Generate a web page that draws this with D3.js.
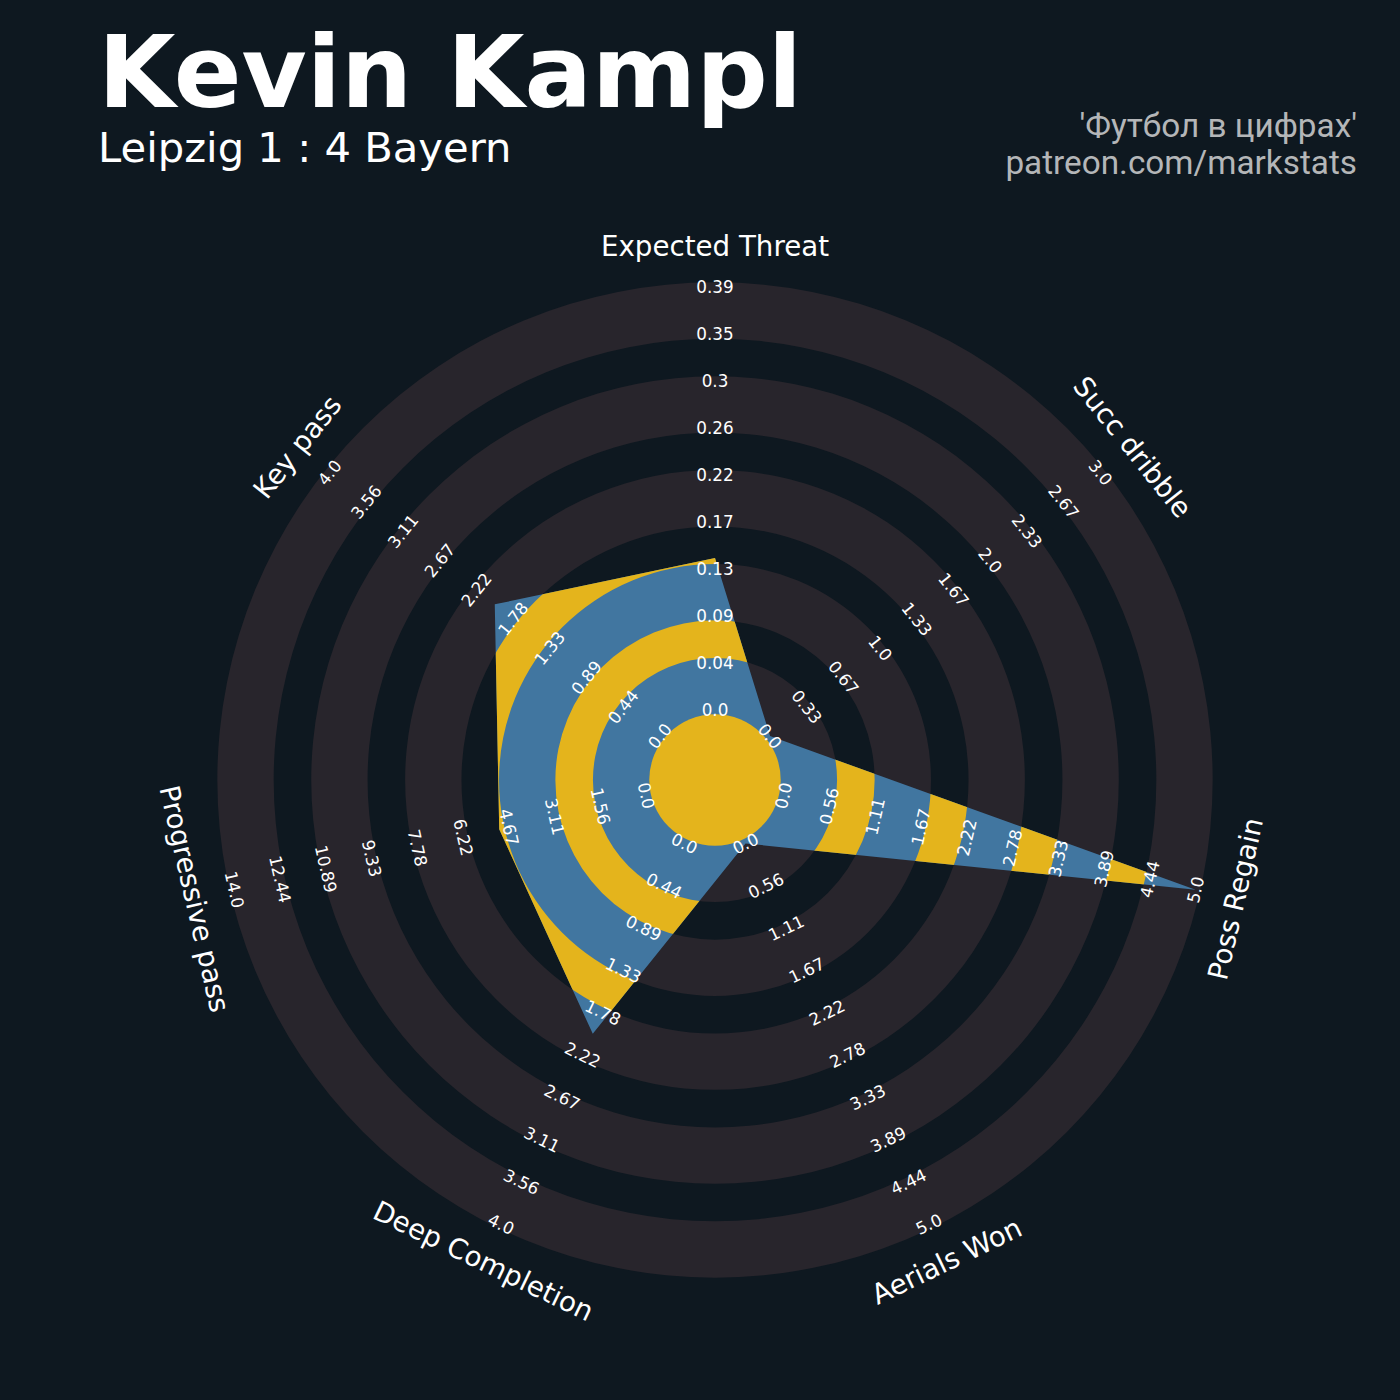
<!DOCTYPE html>
<html>
<head>
<meta charset="utf-8">
<script src="https://cdn.jsdelivr.net/npm/d3@7"></script>
<style>
  html, body { margin: 0; padding: 0; background: #0e1820; }
  svg { display: block; }
</style>
</head>
<body>
<svg id="chart" width="1400" height="1400"></svg>
<script>
// ---- data ----
const params = ["Expected Threat", "Succ dribble", "Poss Regain", "Aerials Won", "Deep Completion", "Progressive pass", "Key pass"];
const values = [0.14, 0, 5, 0, 2, 5, 2];
const rangeMin = [0, 0, 0, 0, 0, 0, 0];
const rangeMax = [0.39, 3, 5, 5, 4, 14, 4];
const tickLabels = [
  ["0.0", "0.04", "0.09", "0.13", "0.17", "0.22", "0.26", "0.3", "0.35", "0.39"],
  ["0.0", "0.33", "0.67", "1.0", "1.33", "1.67", "2.0", "2.33", "2.67", "3.0"],
  ["0.0", "0.56", "1.11", "1.67", "2.22", "2.78", "3.33", "3.89", "4.44", "5.0"],
  ["0.0", "0.56", "1.11", "1.67", "2.22", "2.78", "3.33", "3.89", "4.44", "5.0"],
  ["0.0", "0.44", "0.89", "1.33", "1.78", "2.22", "2.67", "3.11", "3.56", "4.0"],
  ["0.0", "1.56", "3.11", "4.67", "6.22", "7.78", "9.33", "10.89", "12.44", "14.0"],
  ["0.0", "0.44", "0.89", "1.33", "1.78", "2.22", "2.67", "3.11", "3.56", "4.0"]
];
const title = "Kevin Kampl";
const subtitle = "Leipzig 1 : 4 Bayern";
const creditLines = ["'Футбол в цифрах'", "patreon.com/markstats"];

// ---- layout ----
const W = 1400, H = 1400;
const cx = 715, cy = 780;
const u = 46.95;
const colBg = "#0e1820", colRing = "#28252c", colBlue = "#4176a0", colYellow = "#e4b41c";

const svg = d3.select("#chart");
svg.append("rect").attr("width", W).attr("height", H).attr("fill", colBg);

const n = params.length;
const angleDeg = i => 90 - i * 360 / n;   // math angle, CCW from +x
const pt = (i, r) => {
  const a = angleDeg(i) * Math.PI / 180;
  return [cx + r * Math.cos(a), cy - r * Math.sin(a)];
};
const scales = params.map((p, i) => d3.scaleLinear().domain([rangeMin[i], rangeMax[i]]).range([1.5 * u, 10.5 * u]));

const g = svg.append("g");

// background rings
const lightBands = [[1.4, 2.6], [3.4, 4.6], [5.4, 6.6], [7.4, 8.6], [9.4, 10.6]];
const darkBands = [[2.6, 3.4], [4.6, 5.4], [6.6, 7.4], [8.6, 9.4]];
const arc = d3.arc().startAngle(0).endAngle(2 * Math.PI);
g.selectAll("path.ring").data(lightBands).join("path")
  .attr("class", "ring")
  .attr("transform", `translate(${cx},${cy})`)
  .attr("d", d => arc({innerRadius: d[0] * u, outerRadius: d[1] * u}))
  .attr("fill", colRing);

// polygon
const polyPts = values.map((v, i) => pt(i, scales[i](v)));
const line = d3.line().curve(d3.curveLinearClosed);
svg.append("defs").append("clipPath").attr("id", "polyclip")
  .append("path").attr("d", line(polyPts));

g.append("path").attr("d", line(polyPts)).attr("fill", colBlue);

g.append("g").attr("clip-path", "url(#polyclip)")
  .selectAll("path").data(darkBands).join("path")
  .attr("transform", `translate(${cx},${cy})`)
  .attr("d", d => arc({innerRadius: d[0] * u, outerRadius: d[1] * u}))
  .attr("fill", colYellow);

g.append("circle").attr("cx", cx).attr("cy", cy).attr("r", 1.4 * u).attr("fill", colYellow);

// rotation helper (tangent, kept readable)
function rot(i) {
  let r = 90 - angleDeg(i);
  while (r > 180) r -= 360;
  while (r <= -180) r += 360;
  if (r > 90) r -= 180;
  if (r < -90) r += 180;
  return r;
}

// tick labels
params.forEach((p, i) => {
  const sc = scales[i];
  const ticks = d3.range(10).map(k => rangeMin[i] + (rangeMax[i] - rangeMin[i]) * k / 9);
  ticks.forEach((t, k) => {
    const [x, y] = pt(i, sc(t));
    g.append("text")
      .attr("transform", `translate(${x},${y}) rotate(${rot(i)})`)
      .attr("text-anchor", "middle")
      .attr("dominant-baseline", "central")
      .attr("font-family", "DejaVu Sans")
      .attr("font-size", 16.8)
      .attr("fill", "#ffffff")
      .text(tickLabels[i][k]);
  });
  const [lx, ly] = pt(i, 534);
  g.append("text")
    .attr("transform", `translate(${lx},${ly}) rotate(${rot(i)})`)
    .attr("text-anchor", "middle")
    .attr("dominant-baseline", "central")
    .attr("font-family", "DejaVu Sans")
    .attr("font-size", 27.7)
    .attr("fill", "#ffffff")
    .text(p);
});

// titles
svg.append("text").attr("x", 98).attr("y", 107)
  .attr("font-family", "DejaVu Sans").attr("font-weight", "bold").attr("font-size", 100)
  .attr("fill", "#ffffff").text(title);
svg.append("text").attr("x", 98).attr("y", 162)
  .attr("font-family", "DejaVu Sans").attr("font-size", 41.7)
  .attr("fill", "#ffffff").text(subtitle);
svg.selectAll("text.credit").data(creditLines).join("text")
  .attr("class", "credit")
  .attr("x", 1357).attr("y", (d, i) => 137 + i * 37)
  .attr("text-anchor", "end")
  .attr("font-family", "Roboto").attr("font-size", 33.3)
  .attr("fill", "#b4b6b8").text(d => d);
</script>
</body>
</html>
